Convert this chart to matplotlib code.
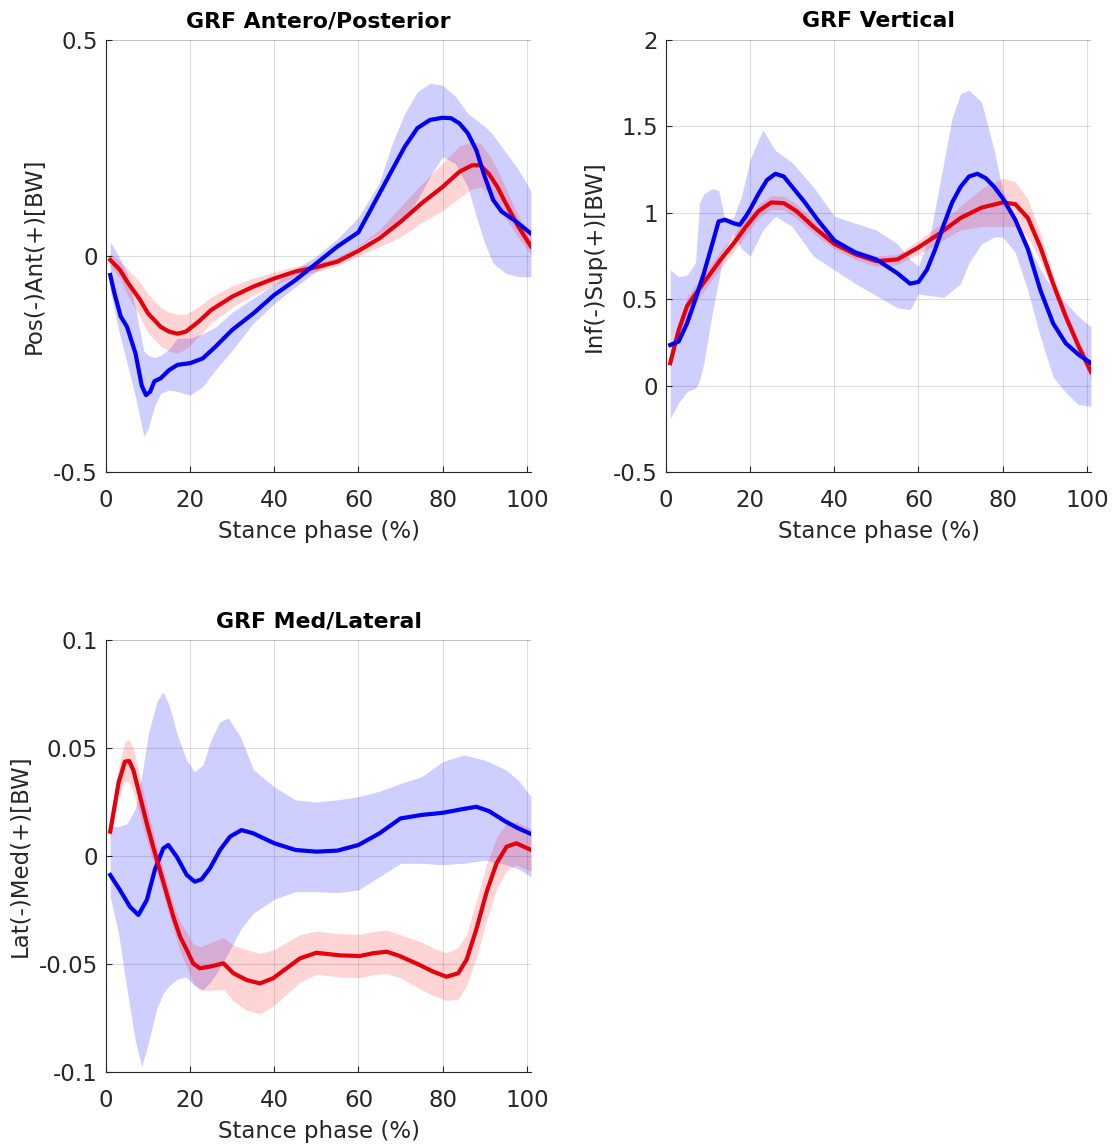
import matplotlib
matplotlib.use("Agg")
import matplotlib.pyplot as plt
import numpy as np

# ---------------- DATA ----------------
# GRF Antero/Posterior
ap_red_x = [1, 3.3, 5, 8, 10, 13, 15, 17, 19, 22, 25, 30, 35, 40, 45, 50, 55, 60, 65, 70, 75, 80, 84, 87, 89, 91, 93, 95, 98, 101]
ap_red_y = [-0.009, -0.032, -0.059, -0.10, -0.133, -0.164, -0.175, -0.18, -0.175, -0.152, -0.125, -0.094, -0.071,
            -0.052, -0.036, -0.026, -0.013, 0.012, 0.041, 0.079, 0.122, 0.16, 0.195, 0.21, 0.21, 0.19, 0.16, 0.122, 0.068, 0.022]
ap_red_sd = [0.015, 0.02, 0.03, 0.04, 0.045, 0.045, 0.045, 0.045, 0.04, 0.035, 0.03, 0.025, 0.02, 0.015, 0.012, 0.01,
             0.01, 0.012, 0.02, 0.035, 0.045, 0.055, 0.06, 0.055, 0.05, 0.045, 0.04, 0.035, 0.025, 0.02]

ap_blue_x = [1, 2, 3.5, 5, 7, 8.5, 9.5, 10.5, 11.5, 13, 15, 17, 20, 23, 26, 30, 35, 40, 45, 50, 55, 60, 65, 68, 71, 74,
             77, 80, 82, 84, 86, 88, 90, 92, 94, 97, 101]
ap_blue_y = [-0.044, -0.086, -0.14, -0.164, -0.225, -0.30, -0.322, -0.314, -0.29, -0.283, -0.264, -0.252, -0.248,
             -0.237, -0.21, -0.171, -0.133, -0.09, -0.056, -0.017, 0.022, 0.055, 0.145, 0.199, 0.253, 0.296, 0.315,
             0.32, 0.319, 0.307, 0.284, 0.245, 0.184, 0.13, 0.103, 0.083, 0.052]

ap_band_x = [1, 3, 5, 7, 9, 10, 11.5, 13, 15, 17, 20, 23, 26, 30, 35, 40, 45, 50, 55, 60, 65, 68, 71, 74, 77, 80, 83,
             86, 88, 90, 92, 95, 98, 101]
ap_band_hi = [0.033, 0.0, -0.04, -0.12, -0.22, -0.23, -0.235, -0.23, -0.215, -0.19, -0.19, -0.18, -0.165, -0.13,
              -0.098, -0.065, -0.03, 0.0, 0.04, 0.09, 0.17, 0.26, 0.33, 0.38, 0.40, 0.395, 0.37, 0.33, 0.315, 0.30,
              0.28, 0.24, 0.2, 0.15]
ap_band_lo = [-0.079, -0.171, -0.248, -0.326, -0.418, -0.40, -0.349, -0.318, -0.31, -0.314, -0.322, -0.302, -0.264,
              -0.218, -0.156, -0.11, -0.071, -0.036, -0.009, 0.022, 0.052, 0.068, 0.091, 0.13, 0.184, 0.23, 0.214,
              0.16, 0.091, 0.029, -0.017, -0.04, -0.048, -0.048]

# GRF Vertical
v_red_x = [1, 3, 5, 7, 10, 13, 16, 19, 22, 25, 28, 31, 35, 40, 45, 50, 55, 60, 65, 70, 75, 80, 83, 86, 89, 92, 95, 98, 101]
v_red_y = [0.13, 0.32, 0.46, 0.53, 0.63, 0.73, 0.82, 0.92, 1.01, 1.06, 1.056, 1.01, 0.92, 0.82, 0.76, 0.72, 0.73,
           0.80, 0.88, 0.97, 1.03, 1.06, 1.05, 0.97, 0.80, 0.59, 0.40, 0.23, 0.08]
v_red_sd = [0.03, 0.04, 0.05, 0.05, 0.05, 0.05, 0.05, 0.05, 0.04, 0.04, 0.04, 0.04, 0.04, 0.03, 0.03, 0.03, 0.03,
            0.04, 0.05, 0.07, 0.11, 0.14, 0.13, 0.11, 0.08, 0.05, 0.04, 0.04, 0.04]

v_blue_x = [1, 3, 5, 7, 9, 11, 12.5, 14, 16, 17.5, 19, 20, 22, 24, 26, 28, 30, 33, 36, 40, 45, 50, 55, 58, 60, 62, 64,
            66, 68, 70, 72, 74, 76, 78, 80, 83, 86, 89, 92, 95, 98, 101]
v_blue_y = [0.235, 0.255, 0.36, 0.50, 0.65, 0.82, 0.95, 0.96, 0.94, 0.93, 0.98, 1.02, 1.11, 1.19, 1.226, 1.21, 1.15,
            1.06, 0.96, 0.84, 0.77, 0.73, 0.65, 0.59, 0.60, 0.67, 0.79, 0.93, 1.06, 1.15, 1.21, 1.226, 1.20, 1.15,
            1.085, 0.96, 0.79, 0.55, 0.36, 0.245, 0.18, 0.13]

v_band_x = [1, 3, 5, 7, 8, 9, 11, 12.5, 14, 16, 18, 20, 23, 26, 30, 35, 40, 45, 50, 55, 58, 60, 63, 66, 68, 70, 72,
            75, 78, 80, 83, 86, 89, 92, 95, 98, 101]
v_band_hi = [0.67, 0.63, 0.64, 0.71, 1.06, 1.11, 1.14, 1.13, 0.96, 0.97, 1.10, 1.31, 1.48, 1.36, 1.29, 1.15, 0.98,
             0.94, 0.90, 0.82, 0.73, 0.69, 0.90, 1.29, 1.55, 1.69, 1.71, 1.64, 1.36, 1.13, 0.98, 0.82, 0.67, 0.55,
             0.48, 0.40, 0.34]
v_band_lo = [-0.19, -0.10, -0.035, -0.015, 0.03, 0.13, 0.42, 0.61, 0.79, 0.88, 0.79, 0.75, 0.90, 0.98, 0.92, 0.75,
             0.67, 0.59, 0.52, 0.45, 0.44, 0.53, 0.52, 0.51, 0.55, 0.59, 0.71, 0.82, 0.86, 0.86, 0.77, 0.55, 0.28,
             0.05, -0.04, -0.11, -0.12]

# GRF Med/Lateral
ml_red_x = [1, 3, 4.5, 5.5, 6.5, 8.1, 9.7, 11.2, 12.8, 14.4, 16, 17.6, 19.2, 20.7, 22.3, 24.7, 27.9, 30.3, 33.4, 36.6,
            39.7, 42.9, 46.1, 50, 55.6, 60.3, 63.5, 66.7, 69.8, 74.6, 77.7, 80.9, 83.7, 85.7, 88, 90.4, 92.8, 95.2,
            97.5, 101]
ml_red_y = [0.0113, 0.034, 0.0437, 0.044, 0.0398, 0.0275, 0.0151, 0.0043, -0.0065, -0.0173, -0.0281, -0.0373,
            -0.0435, -0.0497, -0.052, -0.0512, -0.0497, -0.0543, -0.0574, -0.059, -0.0566, -0.052, -0.0474, -0.0448,
            -0.046, -0.0463, -0.045, -0.0443, -0.0463, -0.0505, -0.0535, -0.0559, -0.0543, -0.048, -0.034, -0.017,
            -0.0034, 0.0043, 0.0059, 0.0028]
ml_red_sd = [0.004, 0.007, 0.009, 0.01, 0.01, 0.009, 0.008, 0.007, 0.006, 0.006, 0.006, 0.007, 0.008, 0.009, 0.01,
             0.011, 0.012, 0.013, 0.014, 0.014, 0.013, 0.012, 0.011, 0.01, 0.01, 0.01, 0.01, 0.01, 0.01, 0.011,
             0.011, 0.011, 0.012, 0.012, 0.013, 0.013, 0.012, 0.011, 0.01, 0.01]

ml_blue_x = [1, 3.3, 5.7, 7.7, 9.7, 11.6, 13.6, 14.8, 16.8, 19.2, 21.1, 22.7, 24.7, 27.1, 29.5, 32.2, 35, 36.6, 40,
             45, 50, 55, 60, 65, 70, 75, 80, 85, 88, 91, 95, 98, 101]
ml_blue_y = [-0.0088, -0.0157, -0.0235, -0.0273, -0.0204, -0.0065, 0.0035, 0.0051, -0.0003, -0.0088, -0.0119,
             -0.0108, -0.0057, 0.0028, 0.009, 0.012, 0.0105, 0.009, 0.0059, 0.0028, 0.002, 0.0025, 0.0051, 0.0105,
             0.0174, 0.019, 0.02, 0.0218, 0.0228, 0.0208, 0.0159, 0.0128, 0.0102]

ml_band_x = [1, 3, 5, 7, 8.5, 10, 12, 13.5, 15, 17, 19, 21, 23, 25, 27, 29, 32, 35, 40, 45, 50, 55, 60, 65, 70, 75,
             80, 85, 90, 95, 98, 101]
ml_band_hi = [0.0136, 0.0136, 0.015, 0.022, 0.037, 0.056, 0.071, 0.076, 0.07, 0.056, 0.045, 0.039, 0.042, 0.054,
              0.062, 0.064, 0.055, 0.04, 0.032, 0.026, 0.025, 0.026, 0.0275, 0.03, 0.0336, 0.0367, 0.0437, 0.0468,
              0.0444, 0.04, 0.035, 0.0275]
ml_band_lo = [-0.019, -0.036, -0.062, -0.086, -0.0975, -0.087, -0.071, -0.064, -0.06, -0.057, -0.056, -0.06, -0.062,
              -0.058, -0.052, -0.045, -0.034, -0.0265, -0.02, -0.0165, -0.0165, -0.017, -0.0157, -0.0096, -0.0034,
              -0.0034, -0.004, -0.0034, -0.0019, -0.004, -0.006, -0.0096]

titles = ["GRF Antero/Posterior", "GRF Vertical", "GRF Med/Lateral"]
ylabels = ["Pos(-)Ant(+)[BW]", "Inf(-)Sup(+)[BW]", "Lat(-)Med(+)[BW]"]
xlabel = "Stance phase (%)"
x_ticks = [0, 20, 40, 60, 80, 100]
y_ticks = [[-0.5, 0, 0.5], [-0.5, 0, 0.5, 1, 1.5, 2], [-0.1, -0.05, 0, 0.05, 0.1]]
y_ticklabels = [["-0.5", "0", "0.5"], ["-0.5", "0", "0.5", "1", "1.5", "2"], ["-0.1", "-0.05", "0", "0.05", "0.1"]]
y_lims = [(-0.5, 0.5), (-0.5, 2), (-0.1, 0.1)]

# ---------------- STYLE ----------------
plt.rcParams['font.family'] = ['DejaVu Sans']
W, H = 1113, 1147
fig = plt.figure(figsize=(W / 100, H / 100), dpi=100)

def frac(l, t, r, b):
    return [l / W, 1 - b / H, (r - l) / W, (b - t) / H]

positions = [frac(106, 40, 531, 472), frac(666, 40, 1091, 472), frac(106, 640, 531, 1072)]

RED = '#e5000d'
BLUE = '#0000f5'
dark = (0.15, 0.15, 0.15)

series = [
    (ap_red_x, ap_red_y, ap_red_sd, ap_blue_x, ap_blue_y, ap_band_x, ap_band_hi, ap_band_lo),
    (v_red_x, v_red_y, v_red_sd, v_blue_x, v_blue_y, v_band_x, v_band_hi, v_band_lo),
    (ml_red_x, ml_red_y, ml_red_sd, ml_blue_x, ml_blue_y, ml_band_x, ml_band_hi, ml_band_lo),
]

for i, (rx, ry, rsd, bx, by, bbx, bhi, blo) in enumerate(series):
    ax = fig.add_axes(positions[i])
    rx = np.array(rx); ry = np.array(ry); rsd = np.array(rsd)
    ax.fill_between(bbx, blo, bhi, color='#0000ff', alpha=0.19, linewidth=0, zorder=1)
    ax.fill_between(rx, ry - rsd, ry + rsd, color='#ff0000', alpha=0.17, linewidth=0, zorder=2)
    if i == 2:
        ax.plot(bx, by, color=BLUE, lw=3.0, zorder=4, solid_joinstyle='round')
        ax.plot(rx, ry, color=RED, lw=3.0, zorder=5, solid_joinstyle='round')
    else:
        ax.plot(rx, ry, color=RED, lw=3.0, zorder=4, solid_joinstyle='round')
        ax.plot(bx, by, color=BLUE, lw=3.0, zorder=5, solid_joinstyle='round')

    ax.set_xlim(0, 101)
    ax.set_ylim(*y_lims[i])
    ax.set_xticks(x_ticks)
    ax.set_yticks(y_ticks[i])
    ax.set_yticklabels(y_ticklabels[i])
    ax.grid(True, color=(0.15, 0.15, 0.15), alpha=0.15, linewidth=0.8)
    ax.set_axisbelow(True)
    for s in ['top', 'right']:
        ax.spines[s].set_visible(False)
    for s in ['left', 'bottom']:
        ax.spines[s].set_color(dark)
        ax.spines[s].set_linewidth(0.8)
    ax.axhline(y_lims[i][1], color=(0.15, 0.15, 0.15), alpha=0.15, lw=0.8, zorder=0)
    ax.axvline(101, color=(0.15, 0.15, 0.15), alpha=0.15, lw=0.8, zorder=0)
    ax.tick_params(axis='x', direction='in', length=4, width=0.8, colors=dark, labelsize=16.5, pad=12)
    ax.tick_params(axis='y', direction='in', length=4, width=0.8, colors=dark, labelsize=16.5, pad=6)
    ax.set_title(titles[i], fontsize=15.8, fontweight='bold', color='black', pad=9)
    ax.set_xlabel(xlabel, fontsize=16.5, color=dark, labelpad=6)
    ax.set_ylabel(ylabels[i], fontsize=16.5, color=dark, labelpad=5)

fig.savefig("out.png", dpi=100)
